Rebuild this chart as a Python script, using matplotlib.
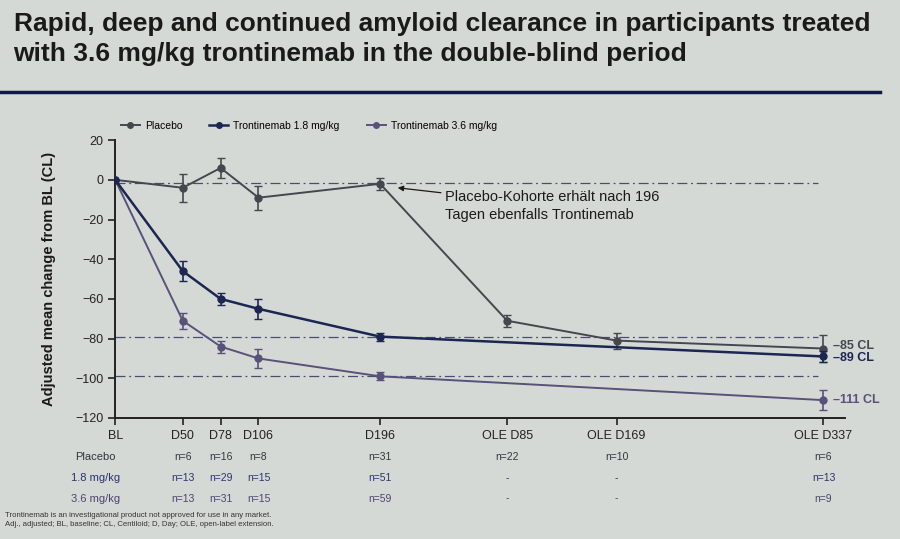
import matplotlib
matplotlib.use("Agg")
import matplotlib.pyplot as plt
from matplotlib.lines import Line2D
import matplotlib.transforms as mtransforms

plt.rcParams["font.family"] = ["Liberation Sans", "DejaVu Sans"]

# visit labels and their position on the time axis (days-like scale)
visits = ["BL", "D50", "D78", "D106", "D196", "OLE D85", "OLE D169", "OLE D337"]
visit_pos = [0, 50, 78, 106, 196, 290, 371, 524]

placebo_mean = [0, -4, 6, -9, -2, -71, -81, -85]
placebo_err = [0, 7, 5, 6, 3, 3, 4, 7]

low_idx = [0, 1, 2, 3, 4, 7]
low_mean = [0, -46, -60, -65, -79, -89]
low_err = [0, 5, 3, 5, 2, 3]

high_idx = [0, 1, 2, 3, 4, 7]
high_mean = [0, -71, -84, -90, -99, -111]
high_err = [0, 4, 3, 5, 2, 5]

ref_levels = [-1.5, -79, -99]

n_placebo = ["n=6", "n=16", "n=8", "n=31", "n=22", "n=10", "n=6"]
n_low = ["n=13", "n=29", "n=15", "n=51", "-", "-", "n=13"]
n_high = ["n=13", "n=31", "n=15", "n=59", "-", "-", "n=9"]

end_labels = ["\u201385 CL", "\u201389 CL", "\u2013111 CL"]

c_placebo = "#45474f"
c_low = "#1c2652"
c_high = "#56527a"
bg = "#d5d9d5"

fig = plt.figure(figsize=(9, 5.39), dpi=100)
fig.patch.set_facecolor(bg)

fig.text(0.015, 0.978, "Rapid, deep and continued amyloid clearance in participants treated\n"
         "with 3.6 mg/kg trontinemab in the double-blind period",
         fontsize=19, fontweight="bold", color="#1a1a1a", va="top", ha="left",
         linespacing=1.32)
fig.add_artist(Line2D([0.0, 0.978], [0.829, 0.829], color="#0d1a45", lw=2.5,
                      transform=fig.transFigure))

ax = fig.add_axes([0.128, 0.2245, 0.811, 0.5155])
ax.set_facecolor("none")

for lv in ref_levels:
    ax.plot([0, 520], [lv, lv], color="#4a4e6e", lw=0.9, ls=(0, (8, 3, 1.5, 3)), zorder=1)

ax.errorbar([visit_pos[i] for i in range(len(visits))], placebo_mean, yerr=placebo_err,
            color=c_placebo, marker="o", ms=5, lw=1.4, capsize=3, elinewidth=1.2, zorder=3)
ax.errorbar([visit_pos[i] for i in low_idx], low_mean, yerr=low_err,
            color=c_low, marker="o", ms=5, lw=1.8, capsize=3, elinewidth=1.2, zorder=4)
ax.errorbar([visit_pos[i] for i in high_idx], high_mean, yerr=high_err,
            color=c_high, marker="o", ms=5, lw=1.4, capsize=3, elinewidth=1.2, zorder=3)

ax.set_xlim(0, 540)
ax.set_ylim(-120, 20)
ax.set_yticks(range(-120, 21, 20))
ax.set_yticklabels([str(v).replace("-", "\u2212") for v in range(-120, 21, 20)])
ax.set_xticks(visit_pos)
ax.set_xticklabels(visits)
ax.tick_params(axis="both", labelsize=9, colors="#222222", length=5, width=1.2)
for side in ["top", "right"]:
    ax.spines[side].set_visible(False)
for side in ["left", "bottom"]:
    ax.spines[side].set_color("#222222")
    ax.spines[side].set_linewidth(1.4)
ax.set_ylabel("Adjusted mean change from BL (CL)", fontsize=10.5, fontweight="bold",
              color="#1a1a1a", labelpad=14)

# legend
handles = [
    Line2D([], [], color=c_placebo, marker="o", ms=4, lw=1.4),
    Line2D([], [], color=c_low, marker="o", ms=4, lw=1.8),
    Line2D([], [], color=c_high, marker="o", ms=4, lw=1.4),
]
ax.legend(handles, ["Placebo", "Trontinemab 1.8 mg/kg", "Trontinemab 3.6 mg/kg"],
          loc="lower left", bbox_to_anchor=(-0.005, 1.0), ncol=3, frameon=False,
          fontsize=7.5, handlelength=1.8, columnspacing=2.6, handletextpad=0.5)

# annotation
ax.annotate("", xy=(209, -4), xytext=(241, -6.5),
            arrowprops=dict(arrowstyle="-|>", color="#1a1a1a", lw=0.9,
                            mutation_scale=8, shrinkA=0, shrinkB=0))
ax.text(244, -13, "Placebo-Kohorte erhält nach 196\nTagen ebenfalls Trontinemab",
        fontsize=10.5, color="#1a1a1a", va="center", ha="left", linespacing=1.35)

# end labels
ax.text(531, -83.5, end_labels[0], color=c_placebo, fontsize=9, fontweight="bold", va="center")
ax.text(531, -90, end_labels[1], color=c_low, fontsize=9, fontweight="bold", va="center")
ax.text(531, -111, end_labels[2], color=c_high, fontsize=9, fontweight="bold", va="center")

# n-table under the axis
trans = mtransforms.blended_transform_factory(ax.transData, fig.transFigure)
rows = [("Placebo", n_placebo, "#33353d", 0.152),
        ("1.8 mg/kg", n_low, "#2a3470", 0.113),
        ("3.6 mg/kg", n_high, "#4a4670", 0.075)]
for name, vals, col, yy in rows:
    fig.text(0.106, yy, name, fontsize=8, color=col, ha="center", va="center")
    for pos, v in zip(visit_pos[1:], vals):
        ax.text(pos, yy, v, fontsize=7.5, color=col, ha="center", va="center",
                transform=trans, clip_on=False)

fig.text(0.006, 0.036, "Trontinemab is an investigational product not approved for use in any market.\n"
         "Adj., adjusted; BL, baseline; CL, Centiloid; D, Day; OLE, open-label extension.",
         fontsize=5.6, color="#333333", ha="left", va="center", linespacing=1.4)

fig.savefig("out.png", dpi=100, facecolor=fig.get_facecolor())
